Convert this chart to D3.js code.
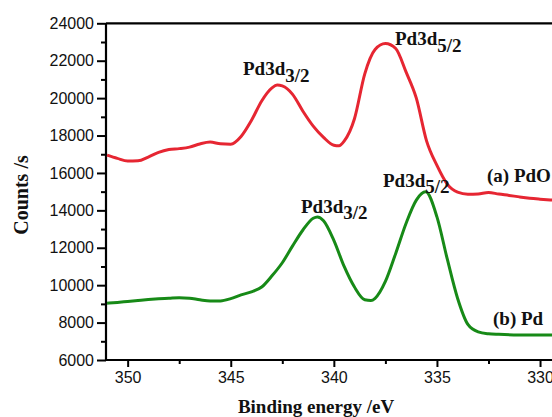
<!DOCTYPE html>
<html>
<head>
<meta charset="utf-8">
<script src="https://cdn.jsdelivr.net/npm/d3@7/dist/d3.min.js"></script>
<style>
  html, body { margin: 0; padding: 0; background: #fff; }
  svg { display: block; }
</style>
</head>
<body>
<svg id="chart" width="552" height="417"></svg>
<script>
// ---- data ----
const energyPdO = [351.0, 350.5, 350.0, 349.5, 349.0, 348.5, 348.0, 347.5, 347.0, 346.5, 346.0, 345.5, 345.0, 344.5, 344.0, 343.5, 343.0, 342.75, 342.5, 342.0, 341.5, 341.0, 340.5, 340.0, 339.75, 339.5, 339.0, 338.5, 338.0, 337.5, 337.0, 336.5, 336.0, 335.5, 335.0, 334.5, 334.0, 333.5, 333.0, 332.5, 332.0, 331.5, 331.0, 330.5, 330.0, 329.4];
const countsPdO = [16950, 16780, 16640, 16650, 16850, 17100, 17250, 17300, 17380, 17550, 17650, 17560, 17540, 17950, 18800, 19850, 20550, 20700, 20650, 20200, 19300, 18500, 17900, 17480, 17450, 17700, 18900, 21300, 22600, 22920, 22650, 21400, 20000, 17700, 16400, 15400, 14970, 14860, 14880, 14960, 14870, 14800, 14720, 14650, 14600, 14550];

const energyPd = [351.0, 350.5, 350.0, 349.5, 349.0, 348.5, 348.0, 347.5, 347.0, 346.5, 346.0, 345.5, 345.0, 344.5, 344.0, 343.5, 343.0, 342.5, 342.0, 341.5, 341.0, 340.8, 340.5, 340.0, 339.5, 339.0, 338.5, 338.2, 338.0, 337.5, 337.0, 336.5, 336.0, 335.55, 335.0, 334.5, 334.0, 333.5, 333.0, 332.5, 332.0, 331.0, 330.0, 329.4];
const countsPd = [9040, 9080, 9130, 9180, 9230, 9270, 9300, 9330, 9300, 9220, 9160, 9160, 9280, 9480, 9640, 9900, 10500, 11200, 12100, 12950, 13580, 13650, 13450, 12400, 11000, 9900, 9220, 9180, 9300, 10200, 11700, 13300, 14550, 14990, 13650, 11400, 9300, 7900, 7500, 7400, 7370, 7340, 7335, 7335];

const xTicks = [350, 345, 340, 335, 330];
const xMinorTicks = [347.5, 342.5, 337.5, 332.5];
const yTicks = [6000, 8000, 10000, 12000, 14000, 16000, 18000, 20000, 22000, 24000];
const yMinorTicks = [7000, 9000, 11000, 13000, 15000, 17000, 19000, 21000, 23000];

const xDomain = [351.05, 329.42];
const yDomain = [6000, 24000];

// ---- layout ----
const L = 106, R = 552, T = 23.3, B = 360;
const svg = d3.select("#chart");

const x = d3.scaleLinear().domain(xDomain).range([L, R]);
const y = d3.scaleLinear().domain(yDomain).range([B, T]);

svg.append("defs").append("clipPath").attr("id", "clip")
  .append("rect").attr("x", L).attr("y", T - 2).attr("width", R - L).attr("height", B - T + 2);

const labelFont = "'Liberation Sans', Arial, sans-serif";
const serif = "'Liberation Serif', 'Times New Roman', serif";

// minor ticks
const yMinor = svg.append("g").attr("transform", `translate(${L},0)`)
  .call(d3.axisLeft(y).tickValues(yMinorTicks).tickSize(5).tickFormat(""));
const xMinor = svg.append("g").attr("transform", `translate(0,${B})`)
  .call(d3.axisBottom(x).tickValues(xMinorTicks).tickSize(4).tickFormat(""));
[yMinor, xMinor].forEach(g => {
  g.select(".domain").remove();
  g.selectAll("line").attr("stroke", "#000").attr("stroke-width", 2);
});

// major axes
const yAxis = svg.append("g").attr("transform", `translate(${L},0)`)
  .call(d3.axisLeft(y).tickValues(yTicks).tickSize(9).tickPadding(3).tickFormat(d3.format("d")));
const xAxis = svg.append("g").attr("transform", `translate(0,${B})`)
  .call(d3.axisBottom(x).tickValues(xTicks).tickSize(7).tickPadding(5).tickFormat(d3.format("d")));
[yAxis, xAxis].forEach(g => {
  g.select(".domain").attr("stroke", "#000").attr("stroke-width", 2.2);
  g.selectAll(".tick line").attr("stroke", "#000").attr("stroke-width", 2);
  g.selectAll("text").attr("fill", "#111").style("font-family", labelFont).style("font-size", "16px");
});
yAxis.select(".domain").attr("d", `M0,${B}V${T}`);
xAxis.select(".domain").attr("d", `M${L},0H${R}`);

// top frame line
svg.append("line").attr("x1", L).attr("x2", R).attr("y1", T).attr("y2", T)
  .attr("stroke", "#000").attr("stroke-width", 2.2);

// curves
const line = d3.line().x(d => x(d[0])).y(d => y(d[1])).curve(d3.curveMonotoneX);
const gLines = svg.append("g").attr("clip-path", "url(#clip)");
gLines.append("path").datum(d3.zip(energyPdO, countsPdO))
  .attr("d", line).attr("fill", "none").attr("stroke", "#e62632").attr("stroke-width", 3)
  .attr("stroke-linejoin", "round");
gLines.append("path").datum(d3.zip(energyPd, countsPd))
  .attr("d", line).attr("fill", "none").attr("stroke", "#178a17").attr("stroke-width", 3)
  .attr("stroke-linejoin", "round");

// axis titles
svg.append("text").attr("x", 316).attr("y", 413).attr("text-anchor", "middle")
  .style("font-family", serif).style("font-weight", "bold").style("font-size", "19px")
  .attr("fill", "#111").text("Binding energy /eV");
svg.append("text").attr("transform", "translate(28,195) rotate(-90)").attr("text-anchor", "middle")
  .style("font-family", serif).style("font-weight", "bold").style("font-size", "20px")
  .attr("fill", "#111").text("Counts /s");

// annotations
function peakLabel(px, py, sub, dy) {
  const t = svg.append("text").attr("x", px).attr("y", py)
    .style("font-family", serif).style("font-weight", "bold").style("font-size", "19px").attr("fill", "#111");
  t.append("tspan").text("Pd3d");
  t.append("tspan").attr("dy", dy).text(sub);
}
peakLabel(243, 75, "3/2", 7);
peakLabel(395, 45, "5/2", 7);
peakLabel(301, 213, "3/2", 6);
peakLabel(383, 187, "5/2", 6);

svg.append("text").attr("x", 487).attr("y", 182)
  .style("font-family", serif).style("font-weight", "bold").style("font-size", "19px")
  .attr("fill", "#111").text("(a) PdO");
svg.append("text").attr("x", 493).attr("y", 325)
  .style("font-family", serif).style("font-weight", "bold").style("font-size", "19px")
  .attr("fill", "#111").text("(b) Pd");
</script>
</body>
</html>
